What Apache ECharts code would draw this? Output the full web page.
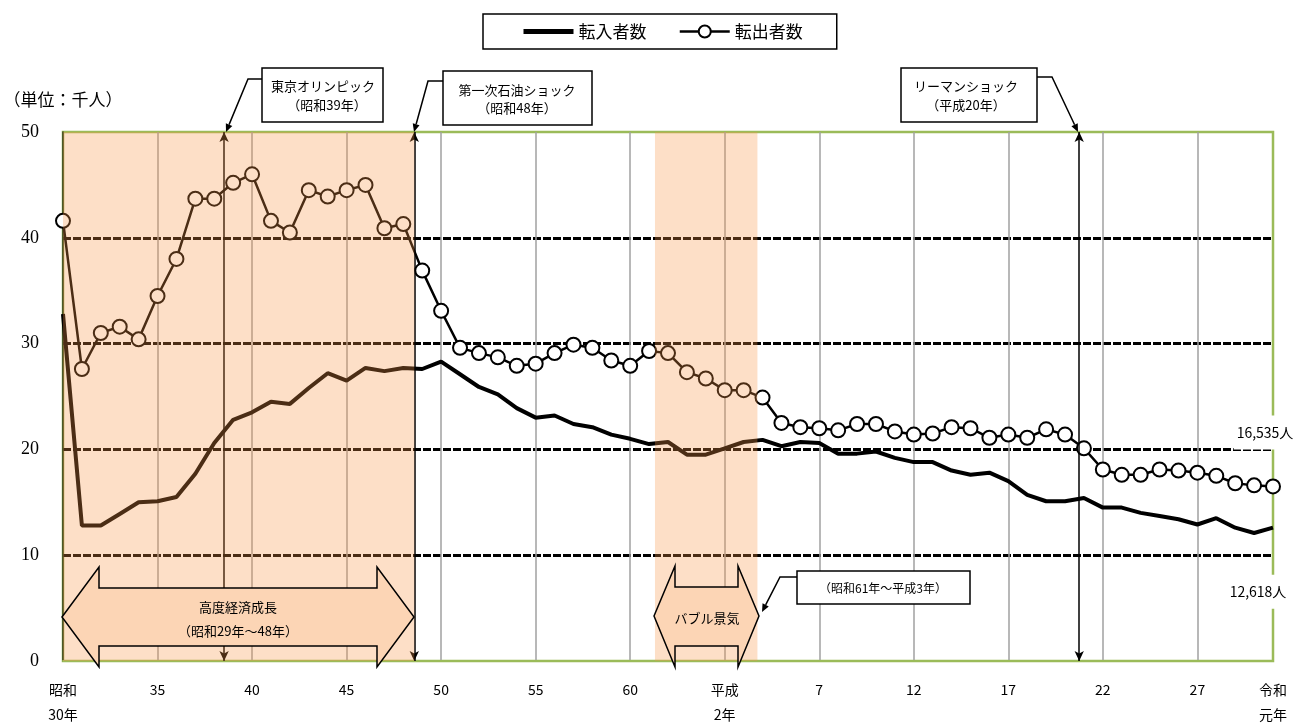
<!DOCTYPE html>
<html><head><meta charset="utf-8">
<script src="https://cdn.jsdelivr.net/npm/echarts@6/dist/echarts.min.js"></script>
<style>html,body{margin:0;padding:0;background:#fff}#c{width:1301px;height:727px}</style>
</head><body><div id="c"></div>
<script>
const years = [1955,1956,1957,1958,1959,1960,1961,1962,1963,1964,1965,1966,1967,1968,1969,1970,1971,1972,1973,1974,
  1975,1976,1977,1978,1979,1980,1981,1982,1983,1984,1985,1986,1987,1988,1989,1990,1991,1992,1993,1994,
  1995,1996,1997,1998,1999,2000,2001,2002,2003,2004,2005,2006,2007,2008,2009,2010,2011,2012,2013,2014,
  2015,2016,2017,2018,2019];
const inflow = [32.8,12.8,12.8,13.9,15.0,15.1,15.5,17.7,20.6,22.8,23.5,24.5,24.3,25.8,27.2,26.5,27.7,27.4,27.7,27.6,
  28.3,27.1,25.9,25.2,23.9,23.0,23.2,22.4,22.1,21.4,21.0,20.5,20.7,19.5,19.5,20.1,20.7,20.9,20.3,20.7,
  20.6,19.6,19.6,19.8,19.2,18.8,18.8,18.0,17.6,17.8,17.0,15.7,15.1,15.1,15.4,14.5,14.5,14.0,13.7,13.4,
  12.9,13.5,12.6,12.1,12.6];
const outflow = [41.6,27.6,31.0,31.6,30.4,34.5,38.0,43.7,43.7,45.2,46.0,41.6,40.5,44.5,43.9,44.5,45.0,40.9,41.3,36.9,
  33.1,29.6,29.1,28.7,27.9,28.1,29.1,29.9,29.6,28.4,27.9,29.3,29.1,27.3,26.7,25.6,25.6,24.9,22.5,22.1,
  22.0,21.8,22.4,22.4,21.7,21.4,21.5,22.1,22.0,21.1,21.4,21.1,21.9,21.4,20.1,18.1,17.6,17.6,18.1,18.0,
  17.8,17.5,16.8,16.6,16.5];
const seriesNames = ['転入者数','転出者数'];
const lastLabels = ['12,618人','16,535人'];
const xTickYears = [1955,1960,1965,1970,1975,1980,1985,1990,1995,2000,2005,2010,2015,2019];
const xTickLabels = ['昭和\n30年','35','40','45','50','55','60','平成\n2年','7','12','17','22','27','令和\n元年'];
const yTicks = [0,10,20,30,40,50];
const eventYears = [1963.52, 1973.58, 2008.75];
const shadedRanges = [[1955,1973.58],[1986.31,1991.73]];

const JP = '"Noto Sans CJK JP","Noto Sans",sans-serif';
const chart = echarts.init(document.getElementById('c'));

function txt(x, y, s, fs, extra) {
  return Object.assign({type:'text', z:101, style:{text:s, x:x, y:y, fill:'#000', font: fs+'px '+JP,
    align:'center', textAlign:'center', verticalAlign:'middle', textVerticalAlign:'middle', lineHeight: fs+6}}, extra||{});
}
function rect(x, y, w, h) {
  return {type:'rect', z:100, shape:{x:x,y:y,width:w,height:h}, style:{fill:'#fff', stroke:'#000', lineWidth:1.5}};
}
function leader(pts) {
  const n = pts.length, a = pts[n-2], b = pts[n-1];
  const dx = b[0]-a[0], dy = b[1]-a[1], L = Math.hypot(dx,dy), ux = dx/L, uy = dy/L;
  const hl = 8, hw = 3.5;
  const base = [b[0]-ux*hl, b[1]-uy*hl];
  return [
    {type:'polyline', z:100, shape:{points:pts.slice(0,n-1).concat([base])}, style:{stroke:'#000', lineWidth:1.5, fill:null}},
    {type:'polygon', z:100, shape:{points:[b,[base[0]-uy*hw, base[1]+ux*hw],[base[0]+uy*hw, base[1]-ux*hw]]}, style:{fill:'#000'}}
  ];
}
function dblArrow(x0, x1, x2, x3, yTop, ySTop, yMid, ySBot, yBot) {
  return {type:'polygon', z:100, shape:{points:[[x0,yMid],[x1,yTop],[x1,ySTop],[x2,ySTop],[x2,yTop],[x3,yMid],[x2,yBot],[x2,ySBot],[x1,ySBot],[x1,yBot]]},
    style:{fill:'#FCD5B5', stroke:'#000', lineWidth:1.5}};
}

const graphics = [
  txt(63, 100, '（単位：千人）', 17),
  rect(262, 68, 121, 54), txt(323, 86, '東京オリンピック', 13), txt(327, 105, '（昭和39年）', 13),
  ...leader([[262,79],[248,79],[226,132]]),
  rect(443, 71, 149, 54), txt(517, 90, '第一次石油ショック', 13), txt(517, 108, '（昭和48年）', 13),
  ...leader([[443,81],[428,81],[414,132]]),
  rect(901, 68, 136, 54), txt(966, 86, 'リーマンショック', 13), txt(966, 105, '（平成20年）', 13),
  ...leader([[1037,77],[1052,77],[1078,132]]),
  dblArrow(62, 99, 377, 414, 567, 588, 617, 646, 667),
  txt(238, 607, '高度経済成長', 13), txt(238, 631, '（昭和29年～48年）', 13),
  dblArrow(654, 675, 738, 759, 566, 587, 616, 646, 667),
  txt(707, 618, 'バブル景気', 13),
  rect(797, 571, 173, 33), txt(883, 588, '（昭和61年～平成3年）', 12),
  ...leader([[797,577],[780,577],[762,612]])
];

const xSplitColors = xTickYears.map((y,i) => (i===0 || i===xTickYears.length-1) ? 'rgba(0,0,0,0)' : '#A0A0A0');
const ySplitColors = yTicks.map((v,i) => (i===0 || i===yTicks.length-1) ? 'rgba(0,0,0,0)' : '#000');

chart.setOption({
  animation: false,
  backgroundColor: '#fff',
  textStyle: {fontFamily: JP},
  grid: {left:63, right:28, top:132, bottom:64, show:true, borderColor:'#9BBB59', borderWidth:2.5, backgroundColor:'rgba(0,0,0,0)'},
  legend: {
    data: [
      {name: seriesNames[0], itemStyle: {opacity: 0}, lineStyle: {width: 5, color: '#000'}},
      {name: seriesNames[1], lineStyle: {width: 2.5, color: '#000'}}
    ],
    left: 483, top: 14, padding: [9, 34, 9, 38], itemGap: 32, itemWidth: 50, itemHeight: 15,
    borderColor: '#000', borderWidth: 1.5, textStyle: {fontSize: 17, color: '#000', fontFamily: JP}
  },
  xAxis: {
    type: 'value', min: 1955, max: 2019, interval: 5,
    axisLine: {show: true, onZero: false, lineStyle: {color: '#9BBB59', width: 2}},
    axisTick: {show: false},
    axisLabel: {margin: 16, fontSize: 14, lineHeight: 25, color: '#000', fontFamily: JP,
      formatter: v => { const i = xTickYears.indexOf(v); return i >= 0 ? xTickLabels[i] : ''; }},
    splitLine: {show: true, lineStyle: {color: xSplitColors, width: 1.5}}
  },
  yAxis: {
    type: 'value', min: 0, max: 50, interval: 10,
    axisLine: {show: true, lineStyle: {color: '#2f3a1a', width: 1.5}},
    axisTick: {show: false},
    axisLabel: {margin: 24, fontSize: 18, color: '#000', fontFamily: '"Liberation Serif","DejaVu Serif",serif'},
    splitLine: {show: true, lineStyle: {color: ySplitColors, width: 3, type: [8, 2]}}
  },
  series: [
    {
      name: seriesNames[0], type: 'line', z: 3,
      data: years.map((y, i) => [y, inflow[i]]),
      symbol: 'none', lineStyle: {color: '#000', width: 4}, itemStyle: {color: '#000'},
      markLine: {
        silent: true, symbol: ['arrow', 'arrow'], symbolSize: [7, 10], label: {show: false},
        lineStyle: {color: '#000', width: 1.5, type: 'solid'},
        data: eventYears.map(x => ({xAxis: x}))
      },
      markPoint: {
        symbol: 'circle', symbolSize: 1, itemStyle: {color: 'rgba(0,0,0,0)'},
        label: {show: true, formatter: () => lastLabels[0], offset: [-15, 64], fontSize: 14, color: '#000',
          backgroundColor: '#fff', padding: [10, 3]},
        data: [{coord: [years[years.length-1], inflow[inflow.length-1]]}]
      }
    },
    {
      name: seriesNames[1], type: 'line', z: 4,
      data: years.map((y, i) => [y, outflow[i]]),
      symbol: 'circle', symbolSize: 14, showAllSymbol: true,
      lineStyle: {color: '#000', width: 2.5},
      itemStyle: {color: '#fff', borderColor: '#000', borderWidth: 2},
      markPoint: {
        symbol: 'circle', symbolSize: 1, itemStyle: {color: 'rgba(0,0,0,0)'},
        label: {show: true, formatter: () => lastLabels[1], offset: [-8, -54], fontSize: 14, color: '#000',
          backgroundColor: '#fff', padding: [10, 3]},
        data: [{coord: [years[years.length-1], outflow[outflow.length-1]]}]
      }
    },
    {
      name: 'shade', type: 'line', z: 10, data: [], silent: true,
      markArea: {
        silent: true, z: 10,
        itemStyle: {color: 'rgba(247,150,70,0.3)'},
        data: shadedRanges.map(r => [{xAxis: r[0]}, {xAxis: r[1]}])
      }
    }
  ],
  graphic: graphics
});
</script></body></html>
